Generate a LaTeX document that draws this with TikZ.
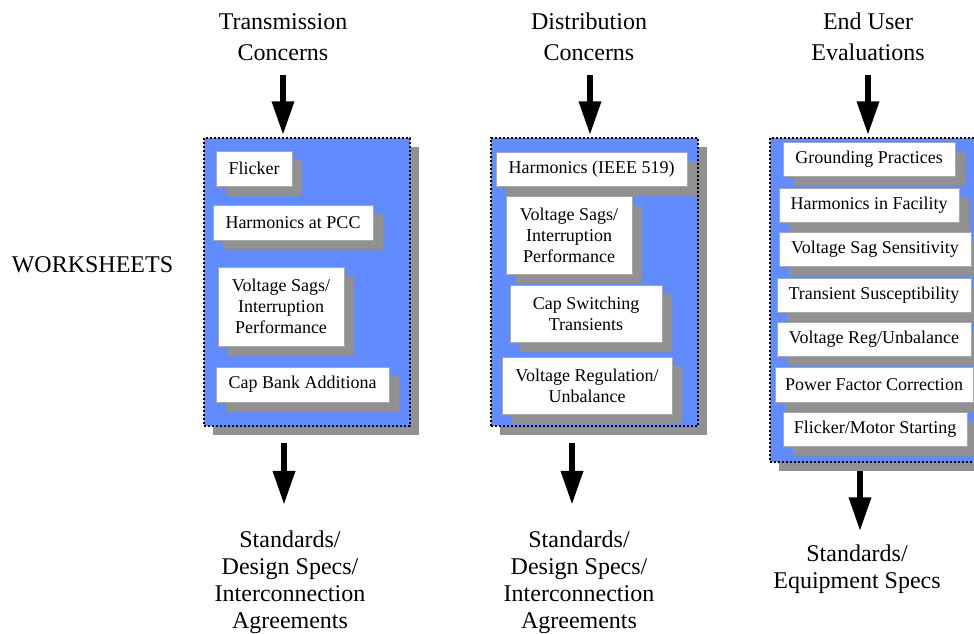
\documentclass[tikz,border=0pt]{standalone}
\usepackage{fontspec}
\setmainfont{Liberation Serif}
\usepackage{tikz}
\usetikzlibrary{arrows.meta,shadows}

\definecolor{panelblue}{RGB}{96,140,255}
\definecolor{shadegray}{RGB}{145,145,145}

\tikzset{
    panel/.style = {rectangle, fill = panelblue, draw = black, line width = 0.75pt, dash pattern = on 1pt off 1pt, inner sep = 0pt, general shadow = {fill = shadegray, shadow xshift = 4.5pt, shadow yshift = -4.5pt}},
    item/.style = {rectangle, fill = white, draw = shadegray!80, line width = 0.5pt, inner sep = 0pt, align = center, font = \fontsize{9}{10.5}\selectfont, general shadow = {fill = shadegray, shadow xshift = 5pt, shadow yshift = -4.5pt}},
    head/.style = {align = center, inner sep = 0pt, anchor = base, font = \fontsize{12}{15.5}\selectfont},
    foot/.style = {align = center, inner sep = 0pt, anchor = base, font = \fontsize{12}{13.5}\selectfont},
    bigarrow/.style = {line width = 3.2pt, -{Triangle[width = 10.5pt, length = 17pt]}}
}

\begin{document}
\begin{tikzpicture}[x = 0.5pt, y = -0.5pt]

    \useasboundingbox (0, 0) rectangle (974, 633);

    \node[head] (trans) at (283, 60) {Transmission\\Concerns};
    \node[head] (dist) at (589, 60) {Distribution\\Concerns};
    \node[head] (enduser) at (868, 60) {End User\\Evaluations};

    \node[head] (ws) at (92.5, 272) {WORKSHEETS};

    \node[panel, minimum width = 103pt, minimum height = 144pt] (p1) at (307, 282) {};
    \node[panel, minimum width = 103.5pt, minimum height = 144pt] (p2) at (594.5, 282) {};
    \node[panel, minimum width = 104pt, minimum height = 162pt] (p3) at (874, 300) {};

    \node[item, minimum width = 38pt, minimum height = 17.5pt] (flicker) at (254, 168.5) {Flicker};
    \node[item, minimum width = 80pt, minimum height = 17.5pt] (pcc) at (293, 222.5) {Harmonics at PCC};
    \node[item, minimum width = 63pt, minimum height = 39.5pt] (sags1) at (281, 306.5) {Voltage Sags/\\Interruption\\Performance};
    \node[item, minimum width = 86.5pt, minimum height = 17.5pt] (capbank) at (302.5, 384.5) {Cap Bank Additiona};

    \node[item, minimum width = 95.5pt, minimum height = 17pt] (ieee) at (591.5, 169) {Harmonics (IEEE 519)};
    \node[item, minimum width = 63pt, minimum height = 39pt] (sags2) at (569, 235) {Voltage Sags/\\Interruption\\Performance};
    \node[item, minimum width = 76pt, minimum height = 28.5pt] (capsw) at (586, 313.5) {Cap Switching\\Transients};
    \node[item, minimum width = 85pt, minimum height = 28.5pt] (vreg) at (587, 385.5) {Voltage Regulation/\\Unbalance};

    \node[item, minimum width = 86pt, minimum height = 17pt] (ground) at (869, 159) {Grounding Practices};
    \node[item, minimum width = 90pt, minimum height = 17pt] (facility) at (869, 205) {Harmonics in Facility};
    \node[item, minimum width = 96pt, minimum height = 17pt] (sagsens) at (875, 249) {Voltage Sag Sensitivity};
    \node[item, minimum width = 97pt, minimum height = 17pt] (transient) at (874, 295) {Transient Susceptibility};
    \node[item, minimum width = 97pt, minimum height = 17pt] (regunb) at (874, 339) {Voltage Reg/Unbalance};
    \node[item, minimum width = 99pt, minimum height = 17.5pt] (pfc) at (874, 384.5) {Power Factor Correction};
    \node[item, minimum width = 92pt, minimum height = 17pt] (motor) at (875, 429) {Flicker/Motor Starting};

    \node[foot] (std1) at (290, 628) {Standards/\\Design Specs/\\Interconnection\\Agreements};
    \node[foot] (std2) at (579, 628) {Standards/\\Design Specs/\\Interconnection\\Agreements};
    \node[foot] (std3) at (857, 588) {Standards/\\Equipment Specs};

    \coordinate (in1) at (283, 75);
    \coordinate (in2) at (590, 75);
    \coordinate (in3) at (868, 75);
    \draw[bigarrow, shorten >= 1pt] (in1) -- (in1 |- p1.north);
    \draw[bigarrow, shorten >= 1pt] (in2) -- (in2 |- p2.north);
    \draw[bigarrow, shorten >= 1pt] (in3) -- (in3 |- p3.north);

    \coordinate (out1) at (284, 443);
    \coordinate (out2) at (572, 443);
    \coordinate (out3) at (860, 471);
    \draw[bigarrow, shorten >= 12.5pt] (out1) -- (out1 |- std1.north);
    \draw[bigarrow, shorten >= 12.5pt] (out2) -- (out2 |- std2.north);
    \draw[bigarrow, shorten >= 6.3pt] (out3) -- (out3 |- std3.north);

\end{tikzpicture}
\end{document}
